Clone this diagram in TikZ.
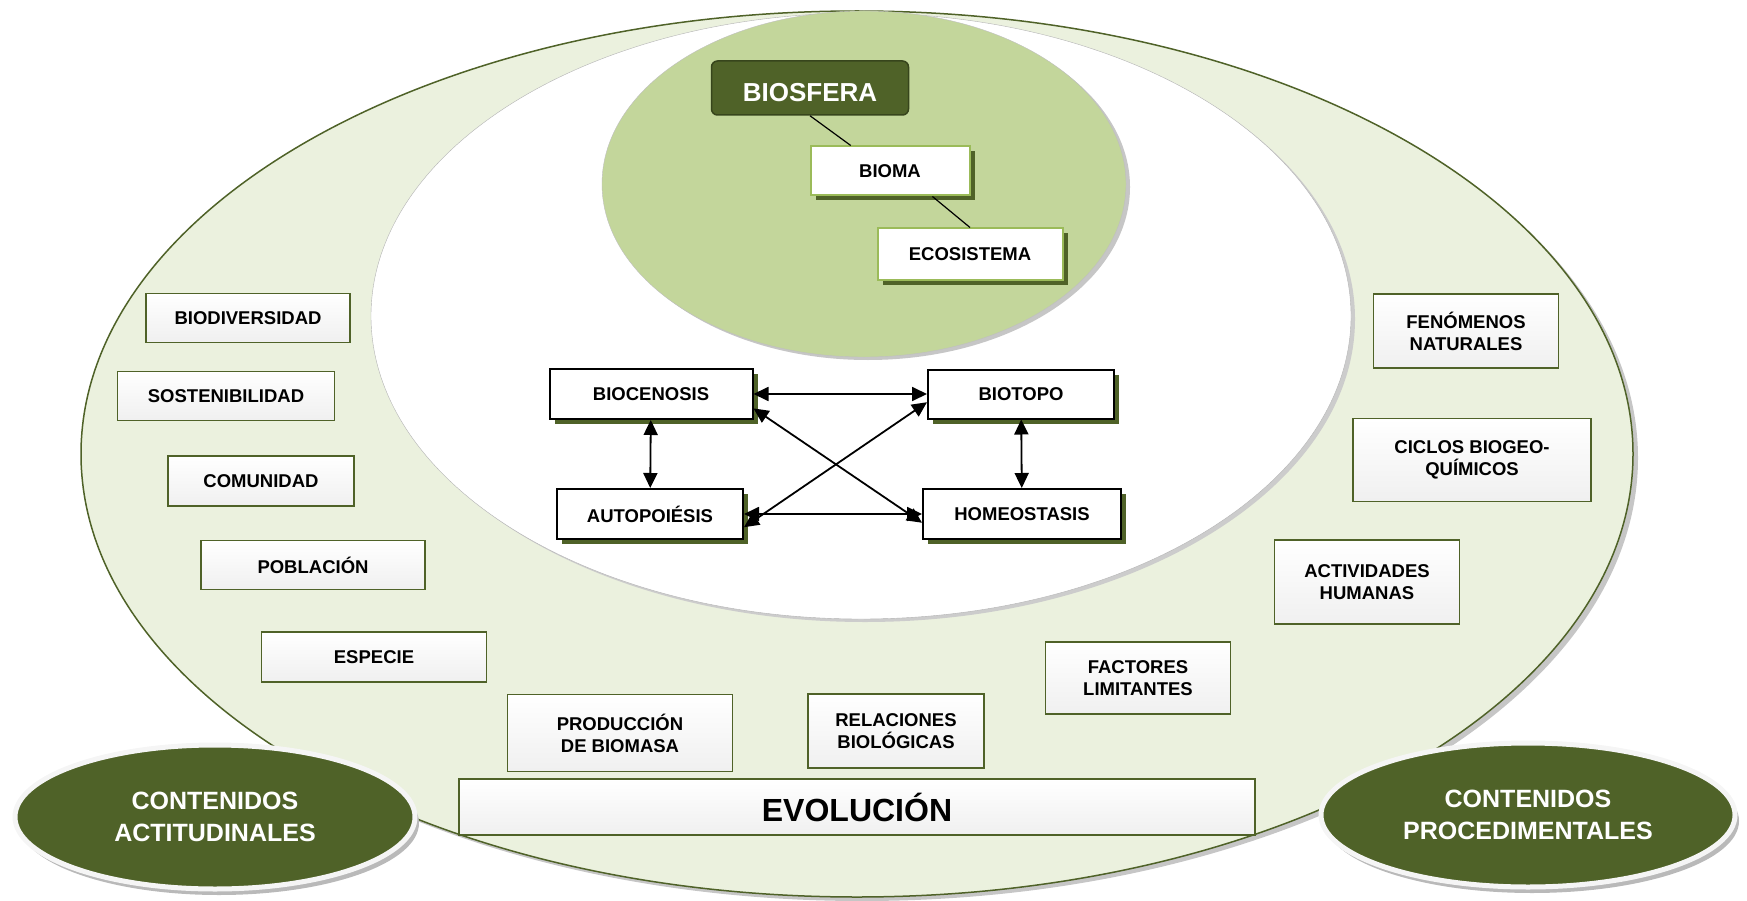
\documentclass[tikz,border=0pt]{standalone}
\usepackage{fontspec}
\setmainfont{Liberation Sans}
\usetikzlibrary{shapes.geometric,shadows,arrows.meta}
\definecolor{olivo}{HTML}{4F6228}
\definecolor{verdeclaro}{HTML}{EBF1DE}
\definecolor{verdemedio}{HTML}{C3D69B}
\definecolor{verdeborde}{HTML}{9BBB59}

\begin{document}
\begin{tikzpicture}[x=1pt, y=-1pt,
    caja/.style={draw=olivo, line width=1.8pt, top color=white, bottom color=gray!12, align=center, inner sep=0pt, font=\fontsize{18.5}{22}\selectfont\bfseries},
    nucleo/.style={draw=black, line width=2pt, fill=white, inner sep=0pt, font=\fontsize{18.5}{22}\selectfont\bfseries, general shadow={fill=olivo, shadow xshift=5pt, shadow yshift=-5pt}},
    nivel/.style={nucleo, draw=verdeborde},
    contenido/.style={ellipse, fill=olivo, draw=gray!8, line width=5pt, text=white, align=center, inner sep=0pt, font=\fontsize{25}{32}\selectfont\bfseries, general shadow={fill=gray!55, shadow xshift=4pt, shadow yshift=-6pt}},
    flecha/.style={{Triangle[length=15pt,width=14pt]}-{Triangle[length=15pt,width=14pt]}, line width=1.8pt}]
    \useasboundingbox (0,0) rectangle (1747,901);

    \fill[gray!45](862,458) ellipse[x radius=776pt, y radius=443pt];
    \draw[olivo, line width=1.5pt, fill=verdeclaro](857,454) ellipse[x radius=776pt, y radius=443pt];
    \fill[gray!40](865,319) ellipse[x radius=490pt, y radius=303pt];
    \draw[gray!60, fill=white](861,316) ellipse[x radius=490pt, y radius=303pt];
    \fill[gray!45](868,187) ellipse[x radius=262pt, y radius=173pt];
    \draw[gray!50, fill=verdemedio](864,184) ellipse[x radius=262pt, y radius=173pt];

    \node[draw=olivo!70!black, line width=1.5pt, fill=olivo, rounded corners=6pt, minimum width=197pt, minimum height=54pt, text=white, font=\fontsize{26}{30}\selectfont\bfseries](biosfera) at (810,88){\raisebox{-14pt}[0pt][0pt]{BIOSFERA}};
    \node[nivel, minimum width=159pt, minimum height=49pt](bioma) at (890,171){BIOMA};
    \node[nivel, minimum width=185pt, minimum height=51pt](ecosistema) at (970,254){ECOSISTEMA};
    \draw[line width=1.2pt](biosfera.south)--(bioma.147);
    \draw[line width=1.2pt](bioma.-31)--(ecosistema.north);

    \node[nucleo, minimum width=203pt, minimum height=50pt](biocenosis) at (651,394){BIOCENOSIS};
    \node[nucleo, minimum width=186pt, minimum height=49pt](biotopo) at (1021,394){BIOTOPO};
    \node[nucleo, minimum width=186pt, minimum height=50pt](autopoiesis) at (650,514){AUTOPOIÉSIS};
    \node[nucleo, minimum width=198pt, minimum height=50pt](homeostasis) at (1022,514){HOMEOSTASIS};
    \draw[flecha](biocenosis)--(biotopo);
    \draw[flecha](autopoiesis)--(homeostasis);
    \draw[flecha](biocenosis)--(autopoiesis);
    \draw[flecha](biotopo)--(homeostasis);
    \draw[flecha](biocenosis.-8)--(homeostasis.185);
    \draw[flecha](autopoiesis.-8)--(biotopo.185);

    \node[caja, minimum width=204pt, minimum height=49pt](biodiversidad) at (248,318){BIODIVERSIDAD};
    \node[caja, minimum width=217pt, minimum height=49pt](sostenibilidad) at (226,396){SOSTENIBILIDAD};
    \node[caja, minimum width=186pt, minimum height=50pt](comunidad) at (261,481){COMUNIDAD};
    \node[caja, minimum width=224pt, minimum height=49pt](poblacion) at (313,565){POBLACIÓN};
    \node[caja, minimum width=225pt, minimum height=50pt](especie) at (374,657){ESPECIE};
    \node[caja, minimum width=225pt, minimum height=77pt](produccion) at (620,733){PRODUCCIÓN\\DE BIOMASA};
    \node[caja, minimum width=176pt, minimum height=74pt](relaciones) at (896,731){RELACIONES\\BIOLÓGICAS};
    \node[caja, minimum width=185pt, minimum height=72pt](factores) at (1138,678){FACTORES\\LIMITANTES};
    \node[caja, minimum width=185pt, minimum height=84pt](actividades) at (1367,582){ACTIVIDADES\\HUMANAS};
    \node[caja, minimum width=238pt, minimum height=83pt](ciclos) at (1472,460){CICLOS BIOGEO-\\QUÍMICOS};
    \node[caja, minimum width=185pt, minimum height=74pt](fenomenos) at (1466,331){FENÓMENOS\\NATURALES};
    \node[caja, minimum width=796pt, minimum height=56pt, font=\fontsize{32}{36}\selectfont\bfseries](evolucion) at (857,807){EVOLUCIÓN};

    \node[contenido, minimum width=400pt, minimum height=144pt](actitudinales) at (215,817){CONTENIDOS\\ACTITUDINALES};
    \node[contenido, minimum width=414pt, minimum height=144pt](procedimentales) at (1528,815){CONTENIDOS\\PROCEDIMENTALES};
\end{tikzpicture}
\end{document}
